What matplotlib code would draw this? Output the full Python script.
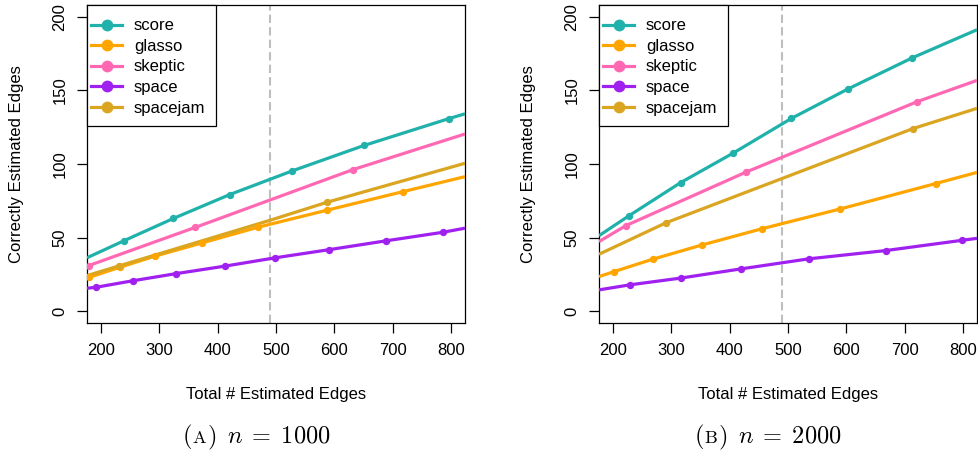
import matplotlib
matplotlib.use("Agg")
import matplotlib.pyplot as plt
from matplotlib.lines import Line2D
from matplotlib.patches import Rectangle
from matplotlib.offsetbox import TextArea, HPacker, AnchoredOffsetbox

plt.rcParams['font.family'] = ['Liberation Sans', 'DejaVu Sans']
plt.rcParams['mathtext.fontset'] = 'cm'

# ---------------- data ----------------
methods = ["score", "glasso", "skeptic", "space", "spacejam"]
colors = ["#20B2AA", "#FFA500", "#FF69B4", "#A020F0", "#DAA520"]
x_ticks = [200, 300, 400, 500, 600, 700, 800]
y_ticks = [0, 50, 100, 150, 200]
x_limits = [200, 800]
y_limits = [0, 200]
cutoff = 490
ylabel = "Correctly Estimated Edges"
xlabel = "Total # Estimated Edges"

# Panel A (n = 1000): line vertices; mark flags say where a dot is drawn
A_score_x = [176, 240, 324, 420.5, 527, 651, 797, 824]
A_score_y = [36.3, 48.0, 63.0, 79.2, 95.2, 112.6, 130.9, 134.1]
A_score_m = [0, 1, 1, 1, 1, 1, 1, 0]
A_glasso_x = [176, 180, 232.5, 293.2, 373.2, 468.7, 587.2, 718.5, 824]
A_glasso_y = [22.6, 23.1, 29.9, 37.5, 46.4, 57.0, 68.6, 81.3, 91.4]
A_glasso_m = [0, 1, 1, 1, 1, 1, 1, 1, 0]
A_skeptic_x = [176, 179, 362, 632, 824]
A_skeptic_y = [30.6, 31.0, 57.0, 96.2, 120.4]
A_skeptic_m = [0, 1, 1, 1, 0]
A_space_x = [176, 192, 254.7, 328.2, 412, 499, 590.9, 688.3, 785.8, 824]
A_space_y = [15.6, 16.3, 20.7, 25.5, 30.6, 36.3, 41.8, 47.8, 53.6, 56.4]
A_space_m = [0, 1, 1, 1, 1, 1, 1, 1, 1, 0]
A_spacejam_x = [176, 231, 490, 587.4, 824]
A_spacejam_y = [24.2, 30.8, 61.8, 74.0, 100.5]
A_spacejam_m = [0, 1, 0, 1, 0]

# Panel B (n = 2000)
B_score_x = [176, 228, 316.1, 406.4, 506, 603.5, 713, 824]
B_score_y = [51.3, 65.0, 87.4, 107.5, 131.0, 151.1, 172.1, 191.2]
B_score_m = [0, 1, 1, 1, 1, 1, 1, 0]
B_glasso_x = [176, 201, 267.8, 352.6, 456.1, 589.9, 753, 824]
B_glasso_y = [23.5, 26.8, 35.3, 45.0, 56.1, 69.5, 86.7, 94.3]
B_glasso_m = [0, 1, 1, 1, 1, 1, 1, 0]
B_skeptic_x = [176, 221.8, 428.7, 721.8, 824]
B_skeptic_y = [47.3, 58.1, 94.6, 142.4, 156.8]
B_skeptic_m = [0, 1, 1, 1, 0]
B_space_x = [176, 228.6, 316, 420.1, 536, 667.5, 799, 824]
B_space_y = [14.5, 17.9, 22.5, 28.8, 35.6, 41.2, 48.2, 49.5]
B_space_m = [0, 1, 1, 1, 1, 1, 1, 0]
B_spacejam_x = [176, 291, 714.5, 824]
B_spacejam_y = [38.7, 60.1, 124.1, 137.8]
B_spacejam_m = [0, 1, 1, 0]

panels = [
    [(A_score_x, A_score_y, A_score_m), (A_glasso_x, A_glasso_y, A_glasso_m),
     (A_skeptic_x, A_skeptic_y, A_skeptic_m), (A_space_x, A_space_y, A_space_m),
     (A_spacejam_x, A_spacejam_y, A_spacejam_m)],
    [(B_score_x, B_score_y, B_score_m), (B_glasso_x, B_glasso_y, B_glasso_m),
     (B_skeptic_x, B_skeptic_y, B_skeptic_m), (B_space_x, B_space_y, B_space_m),
     (B_spacejam_x, B_spacejam_y, B_spacejam_m)],
]
captions = [("A", "1000"), ("B", "2000")]

# ---------------- figure ----------------
W, H = 979, 467
fig = plt.figure(figsize=(W / 100, H / 100), dpi=100)

ax_left_px = [87, 599]
ax_w, ax_top, ax_bot = 378, 5, 323
ax_h = ax_bot - ax_top
cap_cx = [256, 768]
cap_cy = 437

def xr(lim):
    d = lim[1] - lim[0]
    return [lim[0] - 0.04 * d, lim[1] + 0.04 * d]

for p in range(2):
    ax = fig.add_axes([ax_left_px[p] / W, (H - ax_bot) / H, ax_w / W, ax_h / H])
    ax.set_xlim(xr(x_limits))
    ax.set_ylim(xr(y_limits))
    ax.axvline(cutoff, color="#BEBEBE", lw=1.5, dashes=(4, 2), zorder=1)
    for (xs, ys, ms), c in zip(panels[p], colors):
        ax.plot(xs, ys, color=c, lw=2.3, solid_capstyle="butt", zorder=3)
        mx = [x for x, m in zip(xs, ms) if m]
        my = [y for y, m in zip(ys, ms) if m]
        ax.plot(mx, my, 'o', color=c, ms=5.3, mew=0, zorder=4)
    ax.set_xticks(x_ticks)
    ax.set_yticks(y_ticks)
    ax.set_yticklabels([str(v) for v in y_ticks], rotation=90, va="center")
    ax.tick_params(axis="both", direction="out", length=7.2, width=0.9,
                   labelsize=12, colors="black")
    ax.tick_params(axis="x", pad=7.5)
    ax.tick_params(axis="y", pad=7)
    for s in ax.spines.values():
        s.set_linewidth(0.9)
        s.set_color("black")
    ax.set_xlabel(xlabel, fontsize=12, va="center")
    ax.xaxis.set_label_coords(0.5, (ax_bot - 395) / ax_h)
    ax.set_ylabel(ylabel, fontsize=12, va="center")
    ax.yaxis.set_label_coords(-70 / ax_w, 0.5)

    # legend frame (R style)
    frame = Rectangle((0, 1 - 121 / ax_h), 129 / ax_w, 121 / ax_h,
                      transform=ax.transAxes, facecolor="white",
                      edgecolor="black", lw=0.9, zorder=9, clip_on=False)
    ax.add_patch(frame)
    handles = [Line2D([0], [0], color=c, lw=2.3, marker="o", ms=8.5, mew=0)
               for c in colors]
    leg = ax.legend(handles, methods, loc="upper left",
                    bbox_to_anchor=(3.7 / ax_w, 1 - 13.5 / ax_h),
                    borderaxespad=0, fontsize=12, handlelength=1.9,
                    handletextpad=0.7, labelspacing=0.33, borderpad=0,
                    frameon=False)
    leg.set_zorder(10)

    letter, nval = captions[p]
    parts = [
        TextArea(r"$\mathrm{(}$", textprops=dict(size=17.5)),
        TextArea(r"$\mathrm{" + letter + "}$", textprops=dict(size=13)),
        TextArea(r"$\mathrm{)}\ \,n \;=\; " + nval + "$", textprops=dict(size=17.5)),
    ]
    box = HPacker(children=parts, align="baseline", pad=0, sep=0)
    anch = AnchoredOffsetbox(loc="center", child=box, pad=0, borderpad=0,
                             frameon=False,
                             bbox_to_anchor=(cap_cx[p] / W, 1 - cap_cy / H),
                             bbox_transform=fig.transFigure)
    fig.add_artist(anch)

fig.savefig("out.png", dpi=100)
